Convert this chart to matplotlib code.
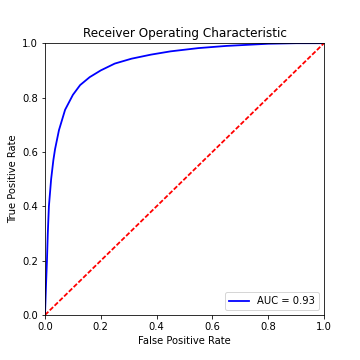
import matplotlib
matplotlib.use("Agg")
import matplotlib.pyplot as plt

# ROC curve points
fpr = [0, 0.002, 0.004, 0.007, 0.01, 0.014, 0.022, 0.03, 0.036, 0.05,
       0.072, 0.1, 0.126, 0.16, 0.2, 0.25, 0.31, 0.38, 0.45, 0.55,
       0.65, 0.8, 0.9, 1.0]
tpr = [0, 0.06, 0.12, 0.2, 0.3, 0.4, 0.5, 0.57, 0.61, 0.68,
       0.755, 0.81, 0.846, 0.875, 0.90, 0.925, 0.943, 0.958, 0.97, 0.982,
       0.99, 0.998, 1.0, 1.0]
roc_auc = 0.93
diag = [0, 1]

fig = plt.figure(figsize=(5, 5), dpi=72)
fig.subplots_adjust(bottom=0.125)
ax = fig.add_subplot(1, 1, 1)
ax.set_title('Receiver Operating Characteristic')
ax.plot(fpr, tpr, 'b', linewidth=1.8, label='AUC = %0.2f' % roc_auc)
ax.legend(loc='lower right')
ax.plot(diag, diag, 'r--', linewidth=1.8, dashes=(2.6, 1.1))
ax.set_xlim([0, 1])
ax.set_ylim([0, 1])
ax.set_ylabel('True Positive Rate')
ax.set_xlabel('False Positive Rate')
fig.savefig('out.png', dpi=72)
